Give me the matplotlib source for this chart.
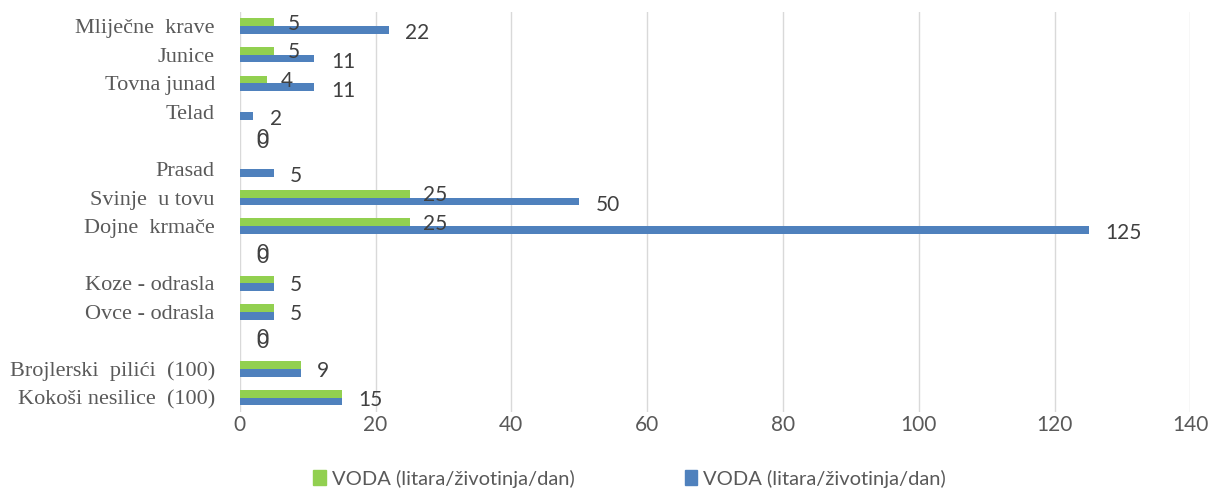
import numpy as np
import matplotlib
matplotlib.use('Agg')
import matplotlib.pyplot as plt
from matplotlib.patches import Patch

# Podaci s grafikona (odozgo prema dolje)
categories = ['Mliječne  krave', 'Junice', 'Tovna junad', 'Telad', '',
              'Prasad', 'Svinje  u tovu', 'Dojne  krmače', '',
              'Koze - odrasla', 'Ovce - odrasla', '',
              'Brojlerski  pilići  (100)', 'Kokoši nesilice  (100)']
green_values = [5, 5, 4, None, 0, None, 25, 25, 0, 5, 5, 0, 9, 15]
blue_values = [22, 11, 11, 2, 0, 5, 50, 125, 0, 5, 5, 0, 9, 15]
xticks = [0, 20, 40, 60, 80, 100, 120, 140]
legend_label = 'VODA (litara/životinja/dan)'

GREEN = '#92D050'
BLUE = '#4F81BD'
GRID = '#D9D9D9'
TEXT = '#595959'
LABEL = '#404040'

sans = ['Lato', 'DejaVu Sans']
serif = ['Liberation Serif', 'DejaVu Serif']

fig = plt.figure(figsize=(12.11, 4.91), dpi=100)
ax = fig.add_axes([0.198, 0.161, 0.785, 0.815])

y = np.arange(len(categories))
h = 0.27
g = np.array([np.nan if v is None else v for v in green_values], dtype=float)
b = np.array(blue_values, dtype=float)

ax.barh(y - h / 2, np.nan_to_num(g), height=h, color=GREEN, zorder=3)
ax.barh(y + h / 2, b, height=h, color=BLUE, zorder=3)

# Oznake vrijednosti
fs = 15
for i in range(len(categories)):
    gv, bv = green_values[i], blue_values[i]
    if gv is not None and gv == 0 and bv == 0:
        # dvije nule se preklapaju kao u originalu
        ax.text(2.4, i - 0.07, '0', va='center', ha='left', fontsize=fs,
                color=LABEL, family=sans)
        ax.text(2.4, i + 0.07, '0', va='center', ha='left', fontsize=fs,
                color=LABEL, family=sans)
        continue
    if gv is not None and gv != bv:
        ax.text(gv + 2.0, i - h / 2 + 0.05, str(gv), va='center', ha='left',
                fontsize=fs, color=LABEL, family=sans)
    yb = i if (gv is not None and gv == bv) else i + h / 2 + 0.05
    ax.text(bv + 2.4, yb + 0.07, str(bv), va='center', ha='left', fontsize=fs,
            color=LABEL, family=sans)

ax.set_xlim(0, 140)
ax.set_ylim(len(categories) - 0.5, -0.5)
ax.set_xticks(xticks)
ax.set_xticklabels([str(t) for t in xticks], family=sans, fontsize=fs, color=TEXT)
ax.set_yticks(y)
ax.set_yticklabels(categories, family=serif, fontsize=16, color=TEXT)
ax.tick_params(axis='both', length=0)
ax.tick_params(axis='y', pad=18)
ax.tick_params(axis='x', pad=2)
ax.grid(axis='x', color=GRID, linewidth=1, zorder=0)
for s in ax.spines.values():
    s.set_visible(False)

handles = [Patch(color=GREEN, label=legend_label), Patch(color=BLUE, label=legend_label)]
fig.legend(handles=handles, loc='lower center', bbox_to_anchor=(0.52, -0.03), ncol=2,
           frameon=False, prop={'family': sans, 'size': 14.5}, labelcolor=TEXT,
           handlelength=0.6, handleheight=0.8, handletextpad=0.3, columnspacing=5.5)

fig.savefig('out.png', dpi=100)
